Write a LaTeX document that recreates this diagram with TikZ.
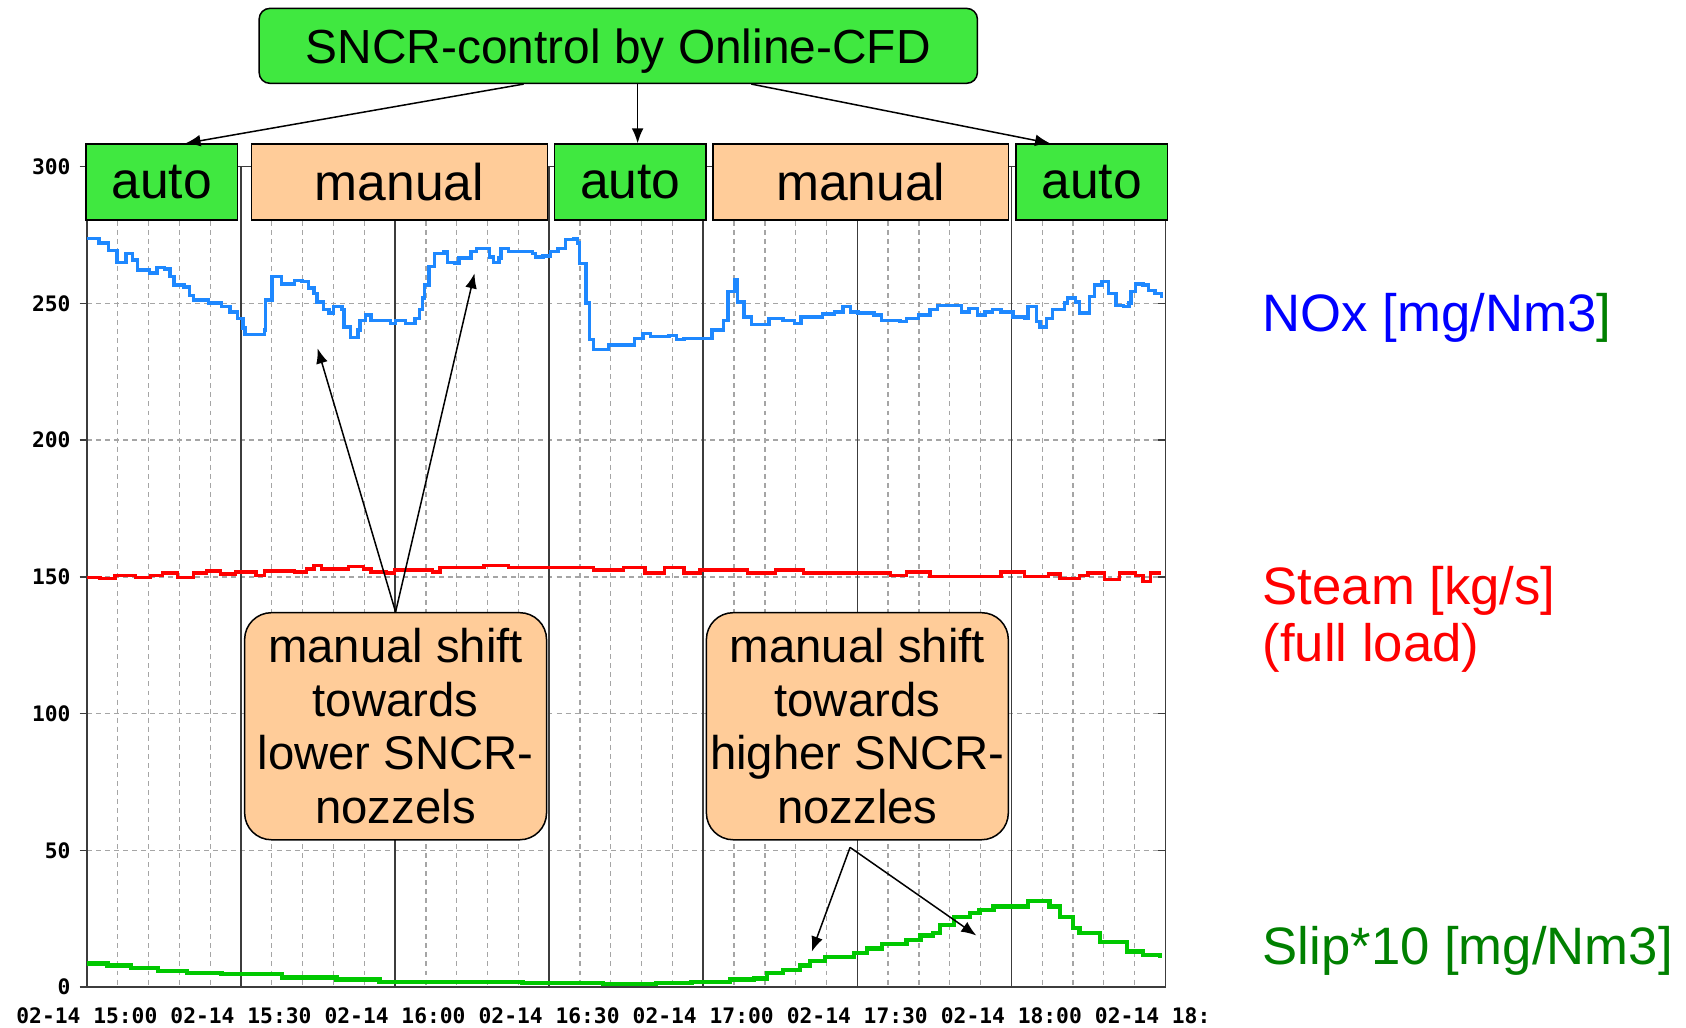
\documentclass[tikz,border=0pt]{standalone}
\usepackage{fontspec}
\setmainfont{Liberation Sans}
\newfontfamily\tickfont{DejaVu Sans Mono}
\usetikzlibrary{arrows.meta}

\definecolor{boxgreen}{RGB}{64,232,64}
\definecolor{boxpeach}{RGB}{255,204,153}
\definecolor{noxblue}{RGB}{30,136,255}
\definecolor{slipgreen}{RGB}{0,200,0}
\definecolor{labgreen}{RGB}{0,128,0}
\definecolor{gridgray}{RGB}{165,165,165}
\definecolor{axisgray}{RGB}{60,60,60}

\tikzset{
  autobox/.style={draw=black, line width=0.7pt, fill=boxgreen, inner sep=0pt,
    minimum width=70.4pt, minimum height=35.3pt, font=\fontsize{24}{28}\selectfont},
  manbox/.style={autobox, fill=boxpeach, minimum width=137.5pt},
  titlebox/.style={draw=black, line width=0.7pt, fill=boxgreen, rounded corners=5pt,
    inner sep=0pt, minimum width=334pt, minimum height=34.85pt, text depth=0pt,
    font=\fontsize{22.25}{26}\selectfont},
  notebox/.style={draw=black, line width=0.7pt, fill=boxpeach, rounded corners=12.5pt,
    inner sep=1pt, minimum width=140.4pt, minimum height=105.6pt, align=center,
    font=\fontsize{22}{24.85}\selectfont},
  arr/.style={-{Latex[length=7pt,width=5.5pt]}, line width=0.7pt},
  minorgrid/.style={gridgray, line width=0.6pt, dash pattern=on 2.3pt off 1.9pt},
  majorgrid/.style={axisgray, line width=0.75pt},
  ticklab/.style={inner sep=0pt, font=\tickfont\bfseries\fontsize{9.9}{12}\selectfont},
  curvelab/.style={inner sep=0pt, font=\fontsize{24.5}{26.5}\selectfont}
}

\begin{document}
\begin{tikzpicture}[x=0.5pt,y=-0.5pt]
		\useasboundingbox (0,0) rectangle (1568,956);
		%%%%% GRID %%%%%
		\foreach \k in {1,...,34}{
			\pgfmathtruncatemacro{\r}{mod(\k,5)}
			\ifnum\r>0
				\draw[minorgrid] ({80.8+28.66*\k},155) -- ({80.8+28.66*\k},918);
			\fi
		}
		\foreach \v in {50,100,...,250}
			\draw[minorgrid] (80.8,{918-2.5433*\v}) -- (1083.9,{918-2.5433*\v});
		\foreach \j in {1,...,6}
			\draw[majorgrid] ({80.8+143.3*\j},155) -- ({80.8+143.3*\j},918);
		\draw[majorgrid] (80.8,155) rectangle (1083.9,918);
		\draw[majorgrid, line width=1.1pt] (80.8,918) -- (1083.9,918);
		\foreach \v in {0,50,...,300}{
			\draw[majorgrid] (74,{918-2.5433*\v}) -- (80.8,{918-2.5433*\v});
			\draw[majorgrid] (1077,{918-2.5433*\v}) -- (1083.9,{918-2.5433*\v});
			\node[ticklab, anchor=east] (yl\v) at (66,{918-2.5433*\v}) {\v};
		}
		\begin{scope}
			\clip (0,925) rectangle (1124,965);
			\foreach \j/\t in {0/15:00,1/15:30,2/16:00,3/16:30,4/17:00,5/17:30,6/18:00,7/18:30}
				\node[ticklab] (xl\j) at ({80.8+143.3*\j},945) {02-14 \t};
		\end{scope}

		%%%%% CURVES %%%%%
		\draw[noxblue, line width=1.6pt] plot[const plot] coordinates {
			(81,222) (92,226) (101,233) (109,244) (117,236) (123,242) (128,251) (139,254)
			(146,249) (153,250) (158,257) (162,265) (171,267) (176,275) (180,279) (194,282)
			(206,285) (214,290) (221,296) (226,305) (228,311) (238,311) (246,307) (247,279)
			(253,257) (262,264) (274,261) (281,262) (287,268) (292,273) (295,281) (301,288)
			(306,291) (310,285) (318,288) (320,304) (326,314) (333,307) (335,298) (340,293)
			(345,298) (363,301) (368,298) (377,301) (386,296) (390,288) (393,277) (395,265)
			(399,248) (404,236) (413,234) (416,244) (423,245) (427,240) (438,234) (443,231)
			(452,231) (455,239) (459,244) (464,240) (466,231) (473,234) (495,236) (498,239)
			(505,238) (512,234) (519,231) (526,223) (534,222) (537,226) (539,245) (545,282)
			(548,316) (552,325) (563,325) (566,321) (585,321) (590,315) (598,310) (605,313)
			(622,312) (629,316) (636,315) (655,315) (662,307) (673,298) (677,271) (683,260)
			(686,281) (692,295) (699,302) (710,302) (715,296) (728,298) (739,301) (745,295)
			(765,292) (776,290) (784,285) (791,290) (798,291) (813,293) (820,298) (837,299)
			(843,296) (854,293) (865,288) (872,284) (887,284) (894,290) (901,287) (909,293)
			(916,290) (923,288) (931,290) (942,295) (953,296) (956,285) (962,285) (964,299)
			(967,304) (973,296) (979,288) (990,282) (993,277) (1000,281) (1004,291) (1012,291)
			(1013,276) (1018,265) (1025,262) (1031,273) (1038,284) (1045,285) (1050,282) (1052,271)
			(1056,264) (1063,265) (1068,270) (1074,273) (1080,277)};
		\draw[red, line width=1.6pt] plot[const plot] coordinates {
			(81,537) (93,538) (107,535) (126,537) (140,535) (151,533) (165,537) (180,533)
			(192,531) (205,534) (219,532) (235,532) (238,535) (246,531) (274,532) (285,529)
			(292,526) (299,529) (324,527) (338,529) (345,532) (359,533) (367,530) (395,530)
			(402,532) (409,528) (445,528) (450,526) (473,528) (530,528) (552,530) (580,528)
			(600,533) (618,528) (636,533) (651,530) (677,530) (695,533) (721,530) (747,533)
			(802,533) (828,535) (843,532) (865,536) (909,536) (931,532) (953,536) (975,534)
			(986,538) (1004,535) (1012,533) (1027,539) (1041,533) (1056,535) (1063,541) (1070,533)
			(1080,533)};
		\draw[slipgreen, line width=2pt] plot[const plot] coordinates {
			(81,896) (100,898) (122,900) (147,903) (174,905) (206,906) (262,909) (313,911)
			(353,913) (486,914) (561,915) (610,914) (643,913) (679,911) (701,910) (713,905)
			(728,902) (744,898) (753,894) (767,890) (794,886) (806,882) (820,878) (843,874)
			(856,870) (868,868) (874,860) (887,853) (902,849) (911,846) (924,843) (949,843)
			(956,838) (970,838) (976,843) (986,853) (998,863) (1004,868) (1023,876) (1048,885)
			(1063,888) (1079,891)};

		%%%%% BOXES %%%%%
		\node[titlebox] (title) at (575,42.65) {SNCR-control by Online-CFD};
		\node[autobox] (a1) at (150.35,169.3) {auto};
		\node[manbox] (m1) at (371.5,169.3) {manual};
		\node[autobox] (a2) at (586.3,169.3) {auto};
		\node[manbox] (m2) at (800.5,169.3) {manual};
		\node[autobox] (a3) at (1015.25,169.3) {auto};

		\node[notebox] (lowshift) at (367.9,675.4) {manual shift\\towards\\lower SNCR-\\nozzels};
		\node[notebox] (highshift) at (797.35,675.4) {manual shift\\towards\\higher SNCR-\\nozzles};

		%%%%% ARROWS %%%%%
		\draw[arr] ([xshift=-44pt]title.south) -- ([xshift=11.1pt]a1.north);
		\draw[arr] ([xshift=9pt]title.south) -- ([xshift=9pt]title.south |- a2.north);
		\draw[arr] ([xshift=61.85pt]title.south) -- ([xshift=-19.3pt]a3.north);

		\coordinate (dip) at (295.4,324);
		\coordinate (rise) at (441.3,254.2);
		\draw[arr] (lowshift.north) -- (dip);
		\draw[arr] (lowshift.north) -- (rise);

		\coordinate (hs) at ([xshift=-3.4pt,yshift=-3.2pt]highshift.south);
		\coordinate (climb) at (755,885);
		\coordinate (peak) at (908,870);
		\draw[arr] (hs) -- (climb);
		\draw[arr] (hs) -- (peak);

		%%%%% LABELS %%%%%
		\node[curvelab, anchor=base west, text=blue] (nox) at (1174,308) {NOx [mg/Nm3\textcolor{labgreen}{]}};
		\node[curvelab, anchor=west, text=red, align=left] (steam) at (1174,575.8) {Steam [kg/s]\\(full load)};
		\node[curvelab, anchor=base west, text=labgreen] (slip) at (1174,896.7) {Slip*10 [mg/Nm3]};
		%%%%% END %%%%%
	\end{tikzpicture}
\end{document}
